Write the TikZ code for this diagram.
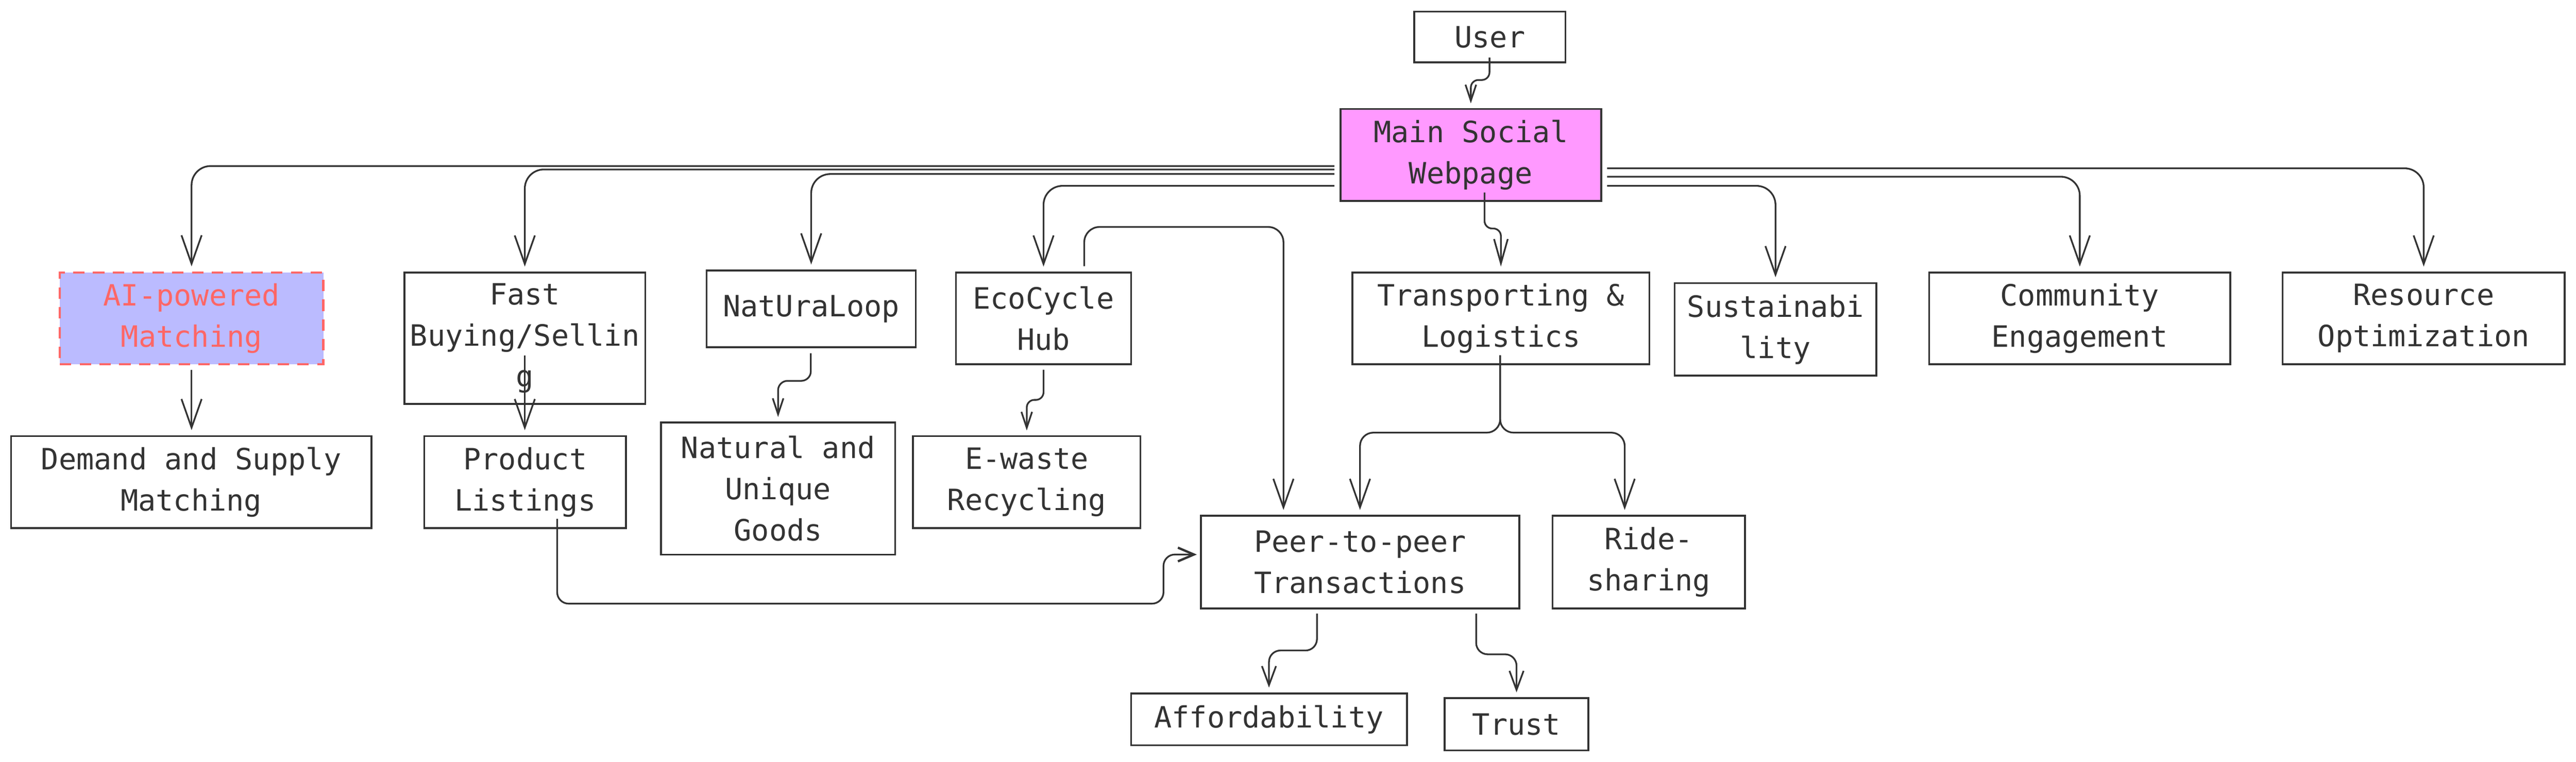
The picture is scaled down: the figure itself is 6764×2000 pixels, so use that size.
\documentclass[tikz,border=0pt]{standalone}
\usepackage{fontspec}
\setmonofont{DejaVu Sans Mono}
\usetikzlibrary{arrows.meta,calc}
\definecolor{ink}{HTML}{333333}
\definecolor{pinkfill}{HTML}{FF99FF}
\definecolor{lav}{HTML}{BBBBFF}
\definecolor{redc}{HTML}{FF6666}
\tikzset{
  box/.style={draw=ink, line width=0.5pt, fill=white, text=ink, align=center, inner sep=0pt,
    font=\ttfamily\fontsize{7.7}{10.8}\selectfont},
  conn/.style={draw=ink, line width=0.45pt},
  bigarr/.style={-{Straight Barb[length=7.5pt,width=5.3pt]}, shorten >=1.3pt},
  medarr/.style={-{Straight Barb[length=6.4pt,width=3.6pt]}, shorten >=1.3pt},
  smallarr/.style={-{Straight Barb[length=4.2pt,width=2.8pt]}, shorten >=1.2pt},
  sarr/.style={-{Straight Barb[length=5pt,width=3.7pt]}, shorten >=1.3pt},
  sidearr/.style={-{Straight Barb[length=4.2pt,width=3.6pt,line width=0.6pt]}, shorten >=0.8pt},
}
\begin{document}
\begin{tikzpicture}[x=0.1pt,y=-0.1pt]
\useasboundingbox (0,0) rectangle (6764,2000);
\fill[white] (0,0) rectangle (6764,2000);
% nodes
\node[box, minimum width=39.7pt, minimum height=13.3pt] (user) at (3912,97) {User};
\node[box, fill=pinkfill, minimum width=68.5pt, minimum height=24.2pt] (main) at (3862,407) {Main Social\\Webpage};
\node[box, fill=lav, draw=redc, text=redc, line width=0.6pt, dash pattern=on 3pt off 2.2pt, minimum width=69.2pt, minimum height=24.1pt] (ai) at (503,836) {AI-powered\\Matching};
\node[box, minimum width=63.3pt, minimum height=34.5pt] (fast) at (1378,888) {Fast\\Buying/Sellin\\g};
\node[box, minimum width=54.9pt, minimum height=20.2pt] (natura) at (2130,811) {NatUraLoop};
\node[box, minimum width=46pt, minimum height=24.1pt] (eco) at (2740,836) {EcoCycle\\Hub};
\node[box, minimum width=78pt, minimum height=24.1pt] (trans) at (3941,836) {Transporting \&\\Logistics};
\node[box, minimum width=53pt, minimum height=24.3pt] (sust) at (4662,865) {Sustainabi\\lity};
\node[box, minimum width=79.1pt, minimum height=24.1pt] (comm) at (5461,836) {Community\\Engagement};
\node[box, minimum width=74.1pt, minimum height=24.1pt] (res) at (6364,836) {Resource\\Optimization};
\node[box, minimum width=94.6pt, minimum height=24.2pt] (demand) at (502,1266) {Demand and Supply\\Matching};
\node[box, minimum width=53pt, minimum height=24.2pt] (prod) at (1379,1266) {Product\\Listings};
\node[box, minimum width=61.5pt, minimum height=34.7pt] (natural) at (2043,1283) {Natural and\\Unique\\Goods};
\node[box, minimum width=59.7pt, minimum height=24.2pt] (ewaste) at (2696,1266) {E-waste\\Recycling};
\node[box, minimum width=83.6pt, minimum height=24.3pt] (peer) at (3571,1476) {Peer-to-peer\\Transactions};
\node[box, minimum width=50.5pt, minimum height=24.3pt] (ride) at (4329,1476) {Ride-\\sharing};
\node[box, minimum width=72.4pt, minimum height=13.6pt] (afford) at (3332,1889) {Affordability};
\node[box, minimum width=37.7pt, minimum height=13.7pt] (trust) at (3982,1902) {Trust};
% connectors from main
\draw[conn, bigarr, rounded corners=5pt] ($(main.west)+(-13,29)$) -| (ai.north);
\draw[conn, bigarr, rounded corners=5pt] ($(main.west)+(-13,38)$) -| (fast.north);
\draw[conn, bigarr, rounded corners=5pt] ($(main.west)+(-13,50)$) -| (natura.north);
\draw[conn, bigarr, rounded corners=5pt] ($(main.west)+(-13,81)$) -| (eco.north);
\draw[conn, bigarr, rounded corners=5pt] ($(main.east)+(13,81)$) -| (sust.north);
\draw[conn, bigarr, rounded corners=5pt] ($(main.east)+(13,57)$) -| (comm.north);
\draw[conn, bigarr, rounded corners=5pt] ($(main.east)+(13,35)$) -| (res.north);
% user to main
\draw[conn, smallarr, rounded corners=2pt] ($(user.south)+(-1,-15)$) -- (3911,210) -- (3862,210) -- (main.north);
% main to transporting
\draw[conn, medarr, rounded corners=2pt] ($(main.south)+(36,-25)$) -- (3898,600) -- (3941,600) -- (trans.north);
% second row
\draw[conn, bigarr] ($(ai.south)+(0,12)$) -- (demand.north -| ai.south);
\draw[conn, bigarr] ($(fast.south)+(0,-130)$) -- (prod.north -| fast.south);
\draw[conn, smallarr, rounded corners=2.5pt] ($(natura.south)+(-1,13)$) -- (2129,1000) -- (2043,1000) -- (natural.north);
\draw[conn, smallarr, rounded corners=2pt] ($(eco.south)+(0,12)$) -- (2740,1050) -- (2696,1050) -- (ewaste.north);
% eco to peer
\draw[conn, bigarr, rounded corners=4pt] ($(eco.north)+(107,-14)$) -- (2847,596) -- (3370,596) -- ($(peer.north)+(-201,0)$);
% transporting to peer and ride
\draw[conn, bigarr, rounded corners=3.5pt] ($(trans.south)+(-2,-26)$) -- (3939,1136) -- (3571,1136) -- (peer.north);
\draw[conn, bigarr, rounded corners=3.5pt] ($(trans.south)+(-2,-26)$) -- (3939,1136) -- (4266,1136) -- ($(ride.north)+(-63,0)$);
% product to peer
\draw[conn, sidearr, rounded corners=3pt] ($(prod.south)+(84,-27)$) -- (1463,1585) -- (3055,1585) -- (3055,1456) -- ($(peer.west)+(0,-20)$);
% peer to affordability and trust
\draw[conn, sarr, rounded corners=3pt] ($(peer.south)+(-113,11)$) -- (3458,1708) -- (3332,1708) -- (afford.north);
\draw[conn, sarr, rounded corners=3pt] ($(peer.south)+(305,11)$) -- (3876,1718) -- (3982,1718) -- (trust.north);
\end{tikzpicture}
\end{document}
